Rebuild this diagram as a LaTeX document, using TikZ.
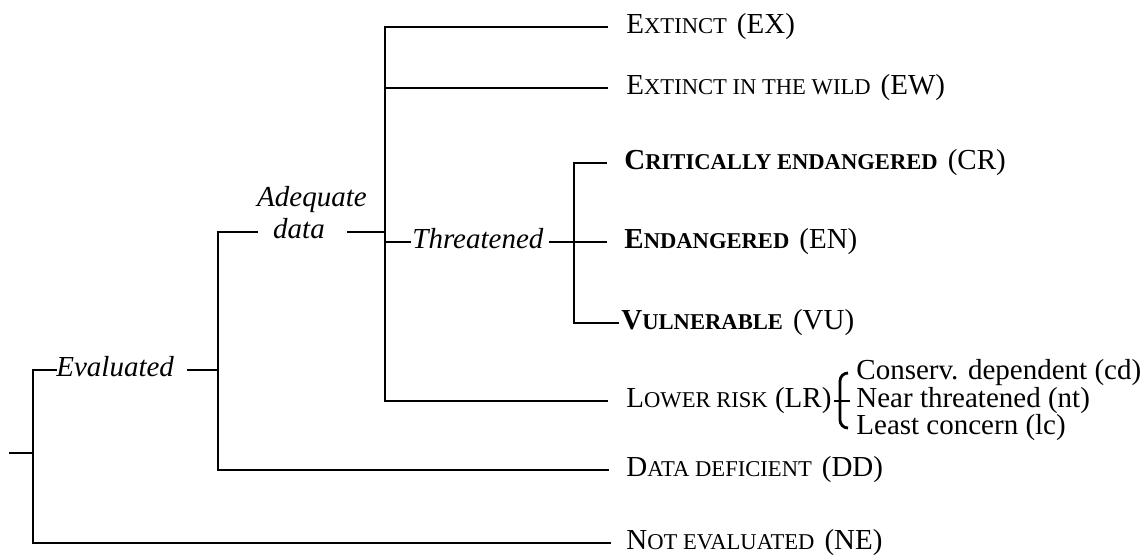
\documentclass[tikz,border=0pt]{standalone}
\usepackage{fontspec}
\setmainfont{Liberation Serif}
\usetikzlibrary{calc}
% faked small capitals: upper-case letters at a reduced size
\newcommand\smc[1]{{\fontsize{11.3}{13}\selectfont #1}}
\tikzset{
  branch/.style={line width=1.4pt, line cap=rect},
  hook/.style={line width=1.4pt, rounded corners=4},
  cat/.style={anchor=west, inner sep=0pt, text height=0.66em, text depth=0pt,
              font=\fontsize{14.5}{16}\selectfont},
  lab/.style={inner sep=0pt, text height=0.66em, text depth=0pt,
              font=\fontsize{14.5}{16}\selectfont\itshape},
}
\begin{document}
\begin{tikzpicture}[x=0.5pt,y=-0.5pt]
\useasboundingbox (0,0) rectangle (1144,557);

% positions of the vertical spines
\coordinate (stub) at (10,453);
\coordinate (j0) at (33,453);
\coordinate (j1) at (218,0);
\coordinate (j2) at (385,0);
\coordinate (j3) at (574,0);
\coordinate (j4) at (840,0);

% intermediate labels
\node[lab, anchor=west] (eval) at (56,370) {Evaluated};
\node[lab] (adeq) at (312,200) {Adequate};
\node[lab] (data) at (299,232) {data};
\node[lab, anchor=west] (thr) at (412,242) {Threatened};

% categories
\node[cat] (ex) at (626,27)  {E\smc{XTINCT}\hspace{5pt}(EX)};
\node[cat] (ew) at (626,88)  {E\smc{XTINCT IN THE WILD}\hspace{5pt}(EW)};
\node[cat] (cr) at (624,163) {\textbf{C\smc{RITICALLY ENDANGERED}}\hspace{5pt}(CR)};
\node[cat] (en) at (624,242) {\textbf{E\smc{NDANGERED}}\hspace{5pt}(EN)};
\node[cat] (vu) at (621,323) {\textbf{V\smc{ULNERABLE}}\hspace{5pt}(VU)};
\node[cat] (lr) at (626,401) {L\smc{OWER RISK} (LR)};
\node[cat] (dd) at (626,470) {D\smc{ATA DEFICIENT}\hspace{5pt}(DD)};
\node[cat] (ne) at (626,543) {N\smc{OT EVALUATED}\hspace{5pt}(NE)};

% lower-risk subcategories
\node[cat] (cd) at (856,373) {Conserv. dependent (cd)};
\node[cat] (nt) at (856,401) {Near threatened (nt)};
\node[cat] (lc) at (856,428) {Least concern (lc)};

% root
\draw[branch] (stub) -- (j0);
\draw[branch] (eval.west) -- (eval.west -| j0) |- ($(ne.west)+(-16,0)$);

% evaluated
\draw[branch] ($(eval.east)+(14,0)$) -- (eval.east -| j1);
\draw[branch] ($(data.west)+(-16,0)$) -- (data.west -| j1) |- ($(dd.west)+(-18,0)$);

% adequate data
\draw[branch] ($(data.east)+(23,0)$) -- (data.east -| j2);
\draw[branch] ($(ex.west)+(-19,0)$) -| (j2 |- lr.west) -- ($(lr.west)+(-19,0)$);
\draw[branch] (j2 |- ew.west) -- ($(ew.west)+(-19,0)$);
\draw[branch] (j2 |- thr.west) -- ($(thr.west)+(-2,0)$);

% threatened
\draw[branch] ($(thr.east)+(7,0)$) -- ($(en.west)+(-18,0)$);
\draw[branch] ($(cr.west)+(-18,0)$) -| (j3 |- vu.west) -- ($(vu.west)+(-3,0)$);

% lower risk bracket
\draw[branch] ($(lr.east)+(4,0)$) -- ($(nt.west)+(-7,0)$);
\draw[hook] ($(cd.west)+(-8,0)$) -- (j4 |- cd.west) -- (j4 |- lc.west) -- ($(lc.west)+(-8,0)$);
\end{tikzpicture}
\end{document}
